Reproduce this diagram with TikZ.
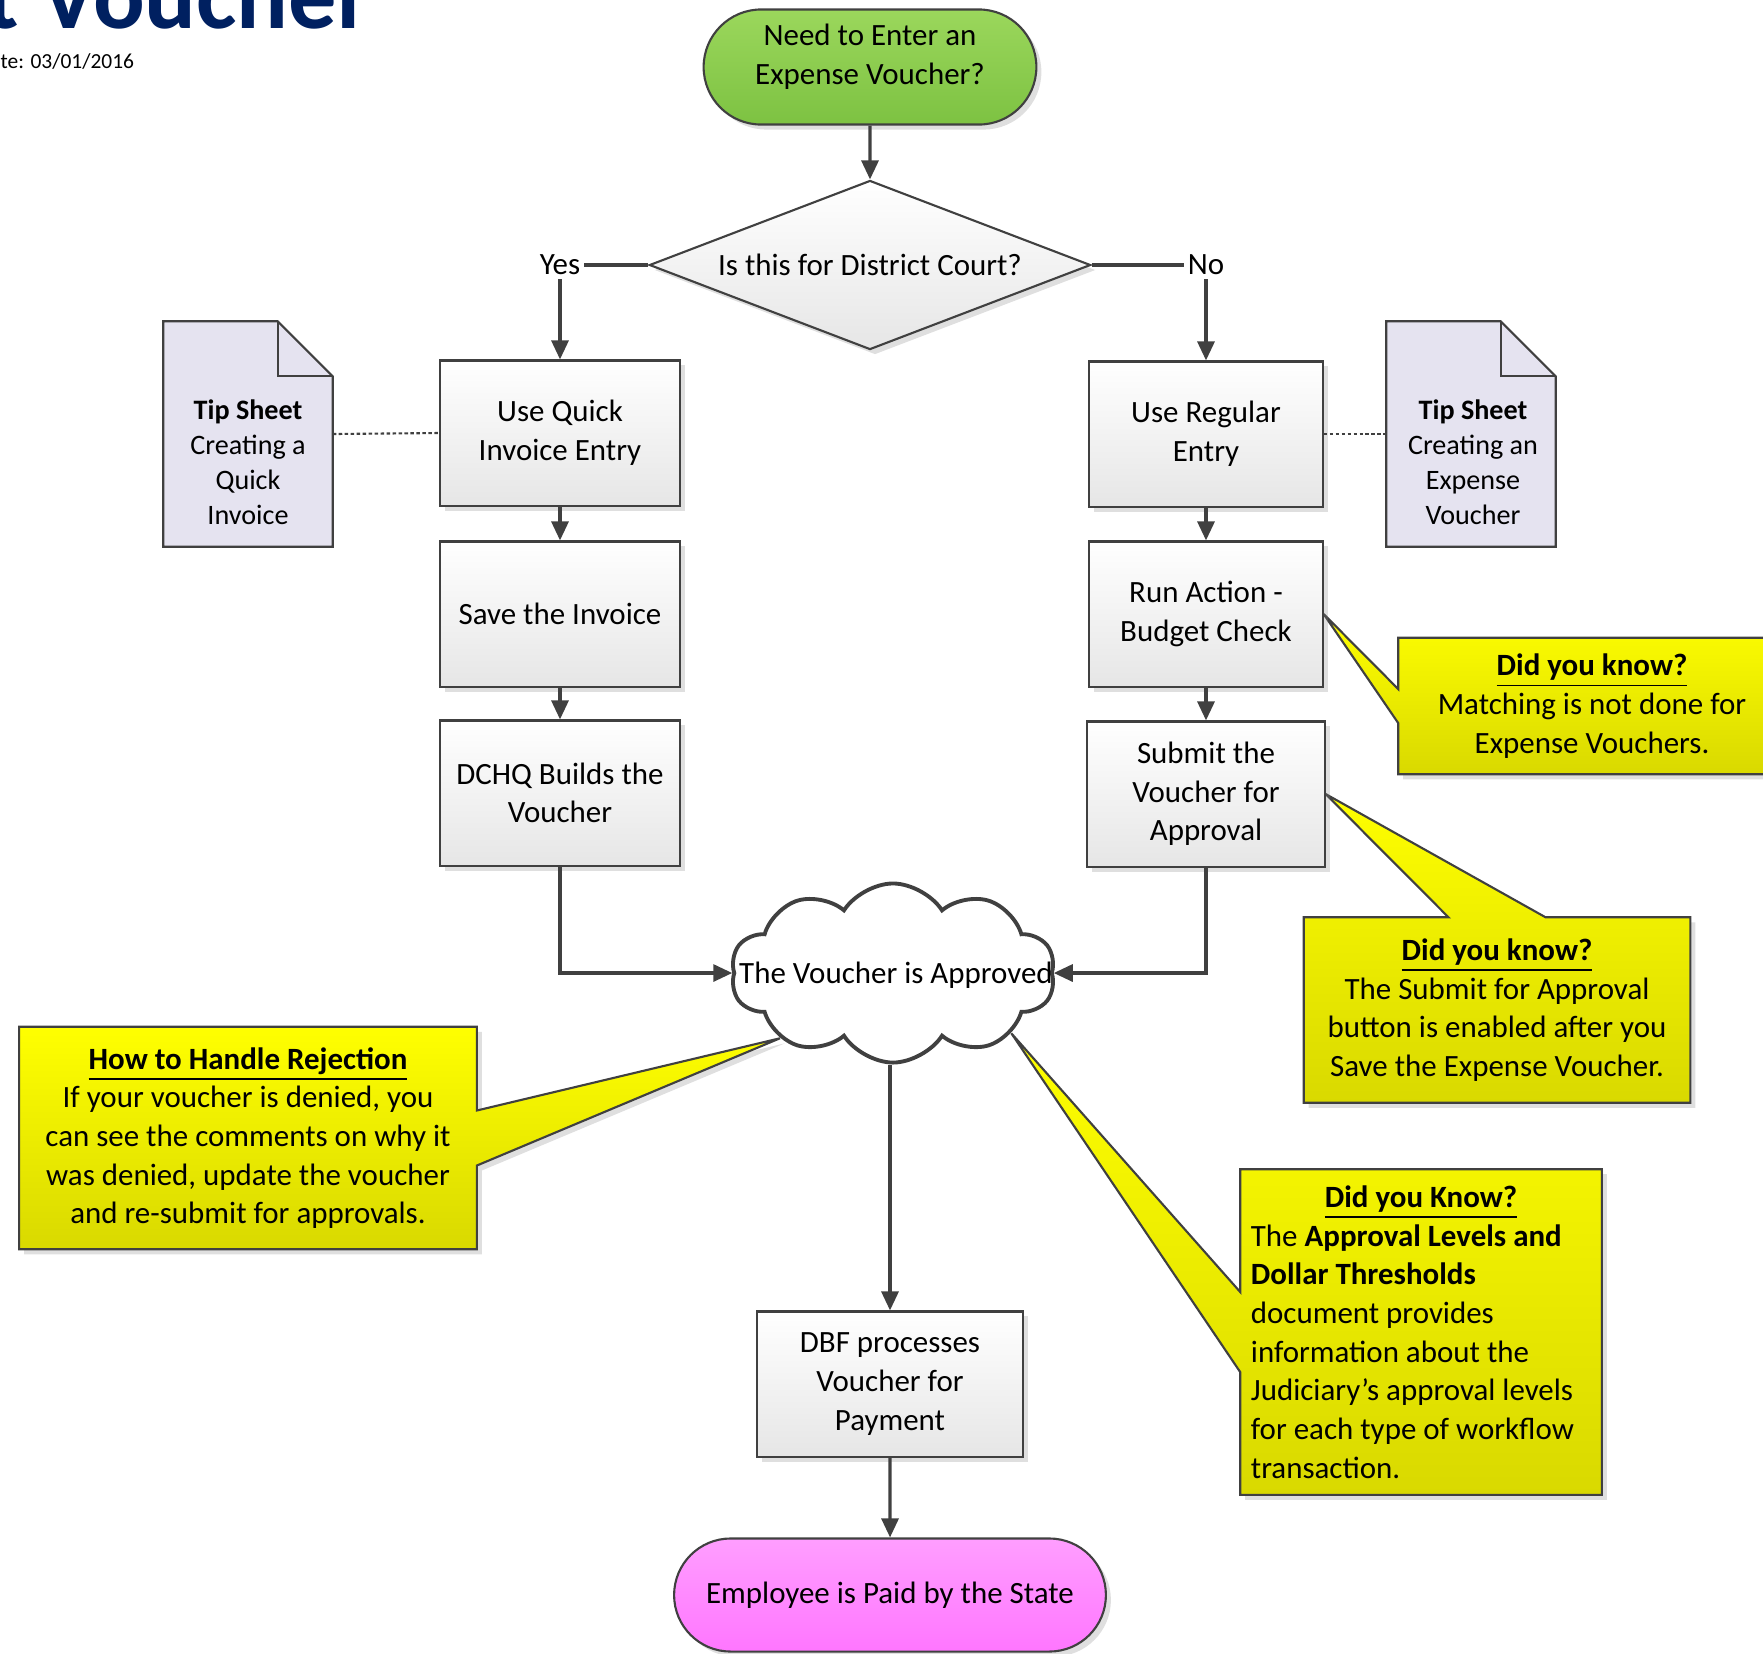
\documentclass[tikz,border=0pt]{standalone}
\usepackage{fontspec}
\setmainfont{Carlito}
\usetikzlibrary{arrows.meta, shapes.geometric, shapes.misc, shapes.symbols, shadows, backgrounds}

\definecolor{linegray}{HTML}{404040}
\definecolor{boxgray}{HTML}{E6E6E6}
\definecolor{titleblue}{HTML}{002060}
\definecolor{greentop}{HTML}{9BD75C}
\definecolor{greenbot}{HTML}{7DC242}
\definecolor{pinktop}{HTML}{FF9EFF}
\definecolor{pinkbot}{HTML}{FF76FF}
\definecolor{sheetlav}{HTML}{E5E3F0}
\definecolor{noteyellow}{HTML}{FFFF00}
\definecolor{notedark}{HTML}{D9D900}

\newcommand{\boxfont}{\fontsize{8.8}{11}\selectfont}
\newcommand{\tipfont}{\fontsize{8}{10}\selectfont}

\tikzset{
    boxshadow/.style = {drop shadow = {shadow xshift = 0.05cm, shadow yshift = -0.05cm, opacity = 0.25}},
    flowbox/.style = {rectangle, draw = linegray, line width = 0.6pt, top color = white, bottom color = boxgray, minimum height = 1.45cm, align = center, font = \boxfont, boxshadow},
    terminal/.style = {rounded rectangle, draw = linegray, line width = 0.6pt, minimum height = 1.15cm, align = center, font = \boxfont, boxshadow},
    decision/.style = {diamond, draw = linegray, line width = 0.6pt, top color = white, bottom color = boxgray, minimum width = 4.41cm, minimum height = 1.69cm, inner sep = 0pt, aspect = 2.6, font = \boxfont, boxshadow},
    notetext/.style = {rectangle, align = center, font = \boxfont, inner sep = 0pt},
    notefill/.style = {draw = linegray, line width = 0.6pt, top color = noteyellow, bottom color = notedark, boxshadow},
    sheet/.style = {draw = linegray, line width = 0.6pt},
    arr/.style = {draw = linegray, line width = 0.9pt, -{Triangle[length = 1.9mm, width = 1.7mm]}},
    tipline/.style = {draw = linegray, line width = 0.6pt, dash pattern = on 1pt off 0.7pt},
    yn/.style = {fill = white, inner sep = 1pt, font = \boxfont}
}

\begin{document}
\begin{tikzpicture}[x = 0.01cm, y = -0.01cm]
    \useasboundingbox (0,0) rectangle (1763,1653);
    \clip (0,0) rectangle (1763,1653);

    \node[anchor = base east, inner sep = 0pt, font = \fontsize{27.4}{32}\selectfont\bfseries, text = titleblue] (title) at (372,28) {t Voucher};
    \node[anchor = base west, inner sep = 0pt, font = \fontsize{6.1}{8}\selectfont] (date) at (0,68) {te: 03/01/2016};

    \node[terminal, top color = greentop, bottom color = greenbot, minimum width = 3.56cm, text depth = 0.25cm] (start) at (870,67) {Need to Enter an\\Expense Voucher?};
    \node[decision] (court) at (870,265) {Is this for District Court?};

    \node[flowbox, minimum width = 2.40cm] (quick) at (560,433) {Use Quick\\Invoice Entry};
    \node[flowbox, minimum width = 2.40cm] (saveinv) at (560,614) {Save the Invoice};
    \node[flowbox, minimum width = 2.40cm] (dchq) at (560,793) {DCHQ Builds the\\Voucher};

    \node[flowbox, minimum width = 2.33cm] (regular) at (1206,434) {Use Regular\\Entry};
    \node[flowbox, minimum width = 2.33cm] (budget) at (1206,614) {Run Action -\\Budget Check};
    \node[flowbox, minimum width = 2.37cm] (submit) at (1206,794) {Submit the\\Voucher for\\Approval};

    \node[cloud, cloud puffs = 10, cloud puff arc = 115, cloud ignores aspect, draw = linegray, line width = 1.1pt, fill = white, minimum width = 3.24cm, minimum height = 1.79cm, inner sep = 0pt] (cloud) at (893,973) {};
    \node[font = \boxfont] (cloudtxt) at (896,975) {The Voucher is Approved};

    \node[flowbox, minimum width = 2.65cm] (dbf) at (890,1384) {DBF processes\\Voucher for\\Payment};
    \node[terminal, top color = pinktop, bottom color = pinkbot, minimum width = 4.55cm, minimum height = 1.13cm] (paid) at (890,1595) {Employee is Paid by the State};

    \node[minimum width = 1.68cm, minimum height = 2.24cm, inner sep = 0pt] (tipL) at (248,434) {};
    \draw[sheet, fill = sheetlav] (tipL.south west) -- (tipL.north west) -- ([xshift = -0.55cm]tipL.north east) -- ([yshift = -0.55cm]tipL.north east) -- (tipL.south east) -- cycle;
    \draw[sheet] ([xshift = -0.55cm]tipL.north east) |- ([yshift = -0.55cm]tipL.north east);
    \node[align = center, font = \tipfont] (tipLtext) at (248,462) {\textbf{Tip Sheet}\\Creating a\\Quick\\Invoice};

    \node[minimum width = 1.68cm, minimum height = 2.24cm, inner sep = 0pt] (tipR) at (1471,434) {};
    \draw[sheet, fill = sheetlav] (tipR.south west) -- (tipR.north west) -- ([xshift = -0.55cm]tipR.north east) -- ([yshift = -0.55cm]tipR.north east) -- (tipR.south east) -- cycle;
    \draw[sheet] ([xshift = -0.55cm]tipR.north east) |- ([yshift = -0.55cm]tipR.north east);
    \node[align = center, font = \tipfont] (tipRtext) at (1473,462) {\textbf{Tip Sheet}\\Creating an\\Expense\\Voucher};

    \draw[arr] (start) -- (court);
    \draw[arr] (court) -| node[yn] {Yes} (quick);
    \draw[arr] (court) -| node[yn] {No} (regular);
    \draw[arr] (quick) -- (saveinv);
    \draw[arr] (saveinv) -- (dchq);
    \draw[arr] (regular) -- (budget);
    \draw[arr] (budget) -- (submit);
    \draw[arr] (dchq) |- (cloud);
    \draw[arr] (submit) |- (cloud);
    \draw[arr] (cloud.south -| dbf.north) -- (dbf.north);
    \draw[arr] (dbf) -- (paid);
    \draw[tipline] (tipL.east) -- (quick.west);
    \draw[tipline] (regular.east) -- (tipR.west);

    \node[notetext, minimum width = 3.86cm, minimum height = 1.35cm] (know1) at (1592,706) {\underline{\textbf{Did you know?}}\\Matching is not done for\\Expense Vouchers.};
    \node[notetext, minimum width = 3.85cm, minimum height = 1.84cm] (know2) at (1497,1010) {\underline{\textbf{Did you know?}}\\The Submit for Approval\\button is enabled after you\\Save the Expense Voucher.};
    \node[notetext, minimum width = 4.56cm, minimum height = 2.21cm] (reject) at (248,1138) {\underline{\textbf{How to Handle Rejection}}\\If your voucher is denied, you\\can see the comments on why it\\was denied, update the voucher\\and re-submit for approvals.};
    \node[notetext, align = flush left, text width = 3.40cm, inner xsep = 0.10cm, minimum height = 3.24cm] (know3) at (1421,1332) {\makebox[3.40cm]{\underline{\textbf{Did you Know?}}}\\The \textbf{Approval Levels and}\\\textbf{Dollar Thresholds}\\document provides\\information about the\\Judiciary’s approval levels\\for each type of workflow\\transaction.};

    \begin{scope}[on background layer]
        \path[notefill] (know1.north west) -- (know1.north east) -- (know1.south east) -- (know1.south west) -- ([yshift = -0.17cm]know1.west) -- (budget.east) -- ([yshift = 0.17cm]know1.west) -- cycle;
        \path[notefill] (know2.south west) -- (know2.north west) -- ([xshift = -0.485cm]know2.north) -- (submit.east) -- ([xshift = 0.485cm]know2.north) -- (know2.north east) -- (know2.south east) -- cycle;
        \path[notefill] (reject.south east) -- (reject.south west) -- (reject.north west) -- (reject.north east) -- ([yshift = 0.275cm]reject.east) -- (cloud.210) -- ([yshift = -0.275cm]reject.east) -- cycle;
        \path[notefill] (know3.north west) -- (know3.north east) -- (know3.south east) -- (know3.south west) -- ([yshift = -0.40cm]know3.west) -- (cloud.333) -- ([yshift = 0.40cm]know3.west) -- cycle;
    \end{scope}
\end{tikzpicture}
\end{document}
